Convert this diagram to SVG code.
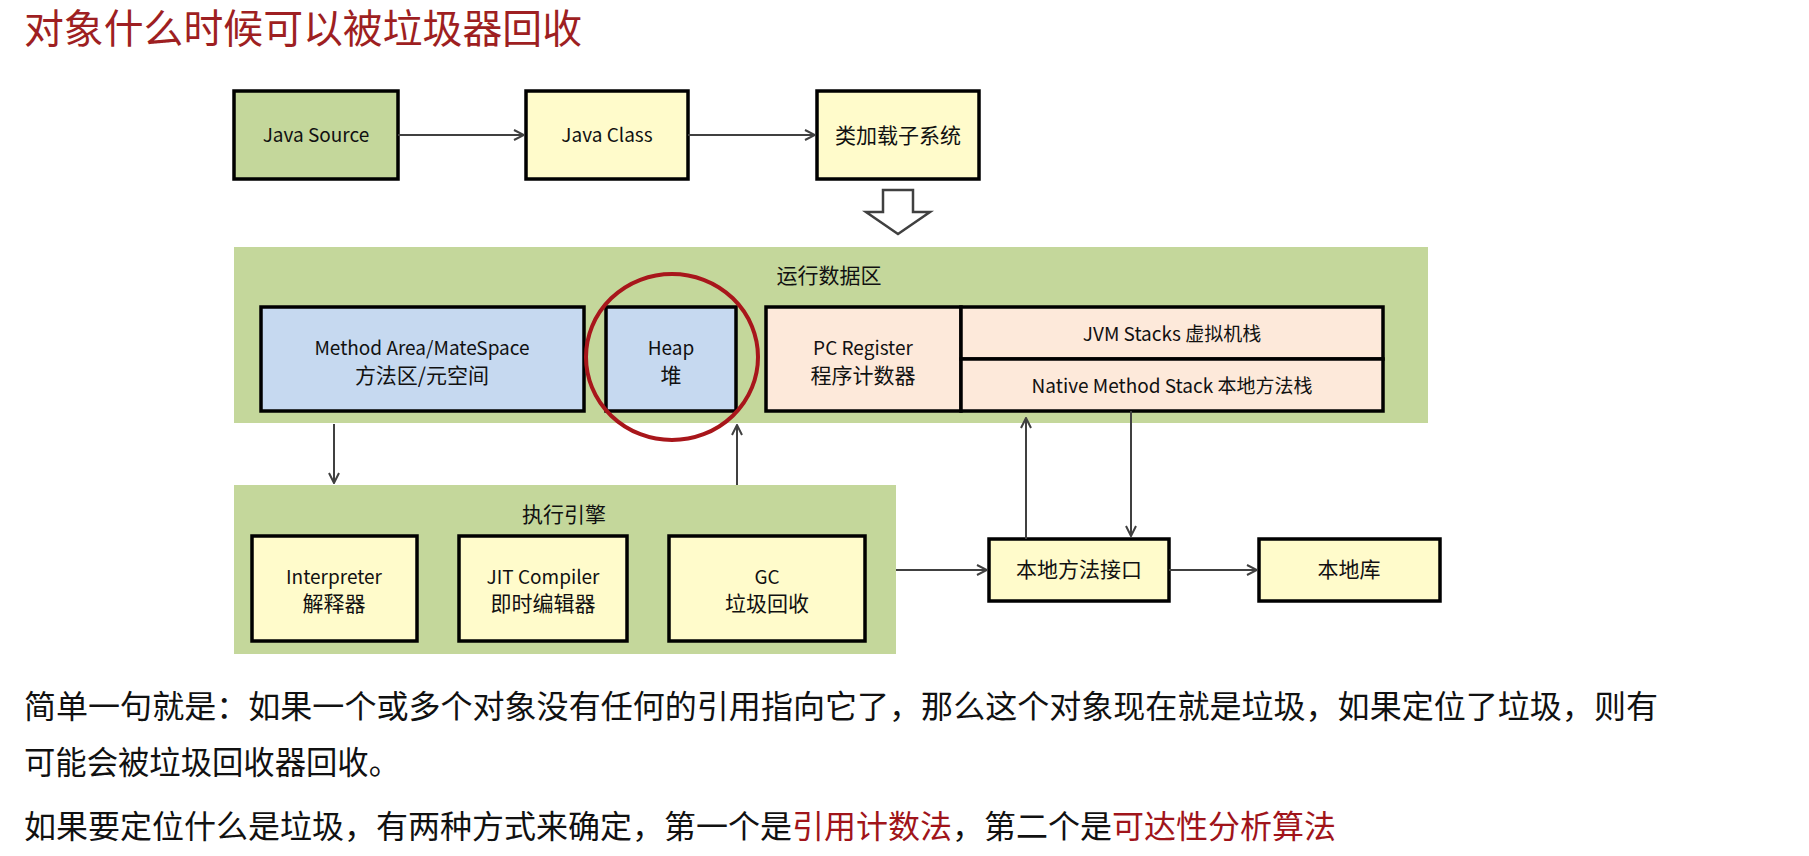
<svg xmlns="http://www.w3.org/2000/svg" width="1809" height="856" viewBox="0 0 1809 856">
<style>
text{font-family:"Noto Sans CJK SC","Liberation Sans",sans-serif;fill:#111;}
.lbl{font-size:19px;text-anchor:middle;}
.cn{font-size:21px;text-anchor:middle;}
.box{stroke:#000;stroke-width:3.5;}
.green{fill:#C4D79B;}
.yellow{fill:#FFFBCB;}
.blue{fill:#C6D9F0;}
.peach{fill:#FDE9DA;}
.conn{stroke:#404040;stroke-width:2;fill:none;}
.para{font-size:32px;}
.red{fill:#A0141A;}
</style>
<defs>
<marker id="ah" viewBox="0 0 12 12" refX="11" refY="6" markerWidth="12" markerHeight="12" markerUnits="userSpaceOnUse" orient="auto">
<path d="M1,1 L11,6 L1,11" fill="none" stroke="#404040" stroke-width="2"/>
</marker>
</defs>
<rect width="1809" height="856" fill="#fff"/>
<text x="24" y="43" style="font-size:40px;fill:#9E1F22" textLength="558" lengthAdjust="spacingAndGlyphs">对象什么时候可以被垃圾器回收</text>

<g id="runtime-area">
<rect x="234" y="247" width="1194" height="176" class="green"/>
<text x="829" y="283" class="cn">运行数据区</text>
</g>
<g id="exec-engine">
<rect x="234" y="485" width="662" height="169" class="green"/>
<text x="564" y="522" class="cn">执行引擎</text>
</g>

<g id="java-source">
<rect x="234" y="91" width="164" height="88" class="box green"/>
<text x="316" y="142" class="lbl">Java Source</text>
</g>
<g id="java-class">
<rect x="526" y="91" width="162" height="88" class="box yellow"/>
<text x="607" y="142" class="lbl">Java Class</text>
</g>
<g id="class-loader">
<rect x="817" y="91" width="162" height="88" class="box yellow"/>
<text x="898" y="143" class="cn">类加载子系统</text>
</g>
<g id="load-arrow">
<path d="M883,190 L913,190 L913,212 L930,212 L898,234 L866,212 L883,212 Z" fill="#fff" stroke="#404040" stroke-width="2.5" stroke-linejoin="miter"/>
</g>

<g id="method-area">
<rect x="261" y="307" width="323" height="104" class="box blue"/>
<text x="422" y="355" class="lbl">Method Area/MateSpace</text>
<text x="422" y="383" class="cn">方法区/元空间</text>
</g>
<g id="heap">
<rect x="606" y="307" width="130" height="104" class="box blue"/>
<text x="671" y="355" class="lbl">Heap</text>
<text x="671" y="383" class="cn">堆</text>
</g>
<g id="pc-register">
<rect x="766" y="307" width="195" height="104" class="box peach"/>
<text x="863" y="355" class="lbl">PC Register</text>
<text x="863" y="383" class="cn">程序计数器</text>
</g>
<g id="jvm-stacks">
<rect x="961" y="307" width="422" height="52" class="box peach"/>
<text x="1172" y="341" class="lbl">JVM Stacks 虚拟机栈</text>
</g>
<g id="native-stack">
<rect x="961" y="359" width="422" height="52" class="box peach"/>
<text x="1172" y="393" class="lbl">Native Method Stack 本地方法栈</text>
</g>
<g id="heap-highlight">
<ellipse cx="672" cy="357" rx="86" ry="83" fill="none" stroke="#A8161B" stroke-width="4"/>
</g>

<g id="interpreter">
<rect x="252" y="536" width="165" height="105" class="box yellow"/>
<text x="334" y="584" class="lbl">Interpreter</text>
<text x="334" y="611" class="cn">解释器</text>
</g>
<g id="jit">
<rect x="459" y="536" width="168" height="105" class="box yellow"/>
<text x="543" y="584" class="lbl">JIT Compiler</text>
<text x="543" y="611" class="cn">即时编辑器</text>
</g>
<g id="gc">
<rect x="669" y="536" width="196" height="105" class="box yellow"/>
<text x="767" y="584" class="lbl">GC</text>
<text x="767" y="611" class="cn">垃圾回收</text>
</g>

<g id="native-interface">
<rect x="989" y="539" width="180" height="62" class="box yellow"/>
<text x="1079" y="577" class="cn">本地方法接口</text>
</g>
<g id="native-lib">
<rect x="1259" y="539" width="181" height="62" class="box yellow"/>
<text x="1349" y="577" class="cn">本地库</text>
</g>

<g id="connectors">
<line x1="398" y1="135" x2="524" y2="135" class="conn" marker-end="url(#ah)"/>
<line x1="688" y1="135" x2="815" y2="135" class="conn" marker-end="url(#ah)"/>
<line x1="334" y1="424" x2="334" y2="483" class="conn" marker-end="url(#ah)"/>
<line x1="737" y1="485" x2="737" y2="425" class="conn" marker-end="url(#ah)"/>
<line x1="896" y1="570" x2="987" y2="570" class="conn" marker-end="url(#ah)"/>
<line x1="1169" y1="570" x2="1257" y2="570" class="conn" marker-end="url(#ah)"/>
<line x1="1026" y1="539" x2="1026" y2="418" class="conn" marker-end="url(#ah)"/>
<line x1="1131" y1="411" x2="1131" y2="536" class="conn" marker-end="url(#ah)"/>
</g>

<text x="24" y="718" class="para" textLength="1634" lengthAdjust="spacingAndGlyphs">简单一句就是：如果一个或多个对象没有任何的引用指向它了，那么这个对象现在就是垃圾，如果定位了垃圾，则有</text>
<text x="24" y="774" class="para" textLength="376" lengthAdjust="spacingAndGlyphs">可能会被垃圾回收器回收。</text>
<text x="24" y="838" class="para" textLength="1312" lengthAdjust="spacingAndGlyphs">如果要定位什么是垃圾，有两种方式来确定，第一个是<tspan class="red">引用计数法</tspan>，第二个是<tspan class="red">可达性分析算法</tspan></text>
</svg>
